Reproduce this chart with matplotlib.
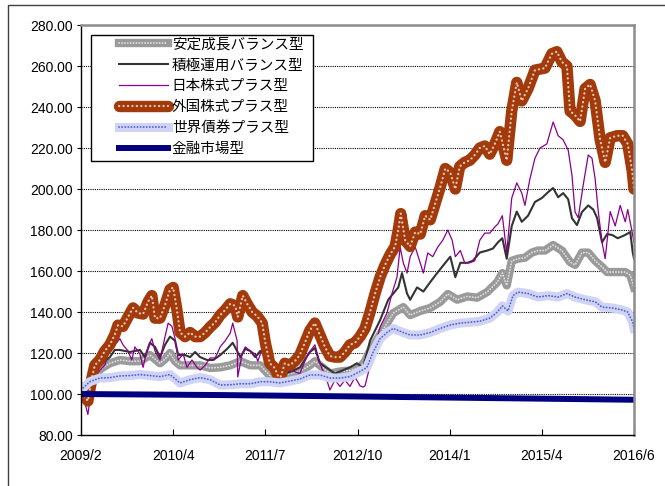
import numpy as np
import matplotlib.pyplot as plt
from matplotlib.patches import Rectangle

plt.rcParams['font.family'] = ['Liberation Sans', 'Noto Sans CJK JP']

# x = months elapsed since 2009/2
tick_labels = ['2009/2', '2010/4', '2011/7', '2012/10', '2014/1', '2015/4', '2016/6']
x_end = 88.2

names = ['安定成長バランス型', '積極運用バランス型', '日本株式プラス型',
         '外国株式プラス型', '世界債券プラス型', '金融市場型']

# 安定成長バランス型
t_stable = [0, 1.4, 3.0, 4.6, 6.2, 7.8, 9.4, 11.0, 12.6, 13.4, 14.2, 15.0, 15.8, 17.4, 19.0,
            20.6, 22.2, 23.8, 25.4, 27.0, 28.6, 30.1, 31.7, 33.3, 34.9, 36.5, 37.3, 38.1, 39.7,
            41.3, 42.9, 44.5, 45.3, 46.1, 46.9, 47.7, 49.8, 51.4, 52.5, 54.1, 55.7, 57.3, 58.5,
            60.0, 61.6, 63.2, 64.8, 66.4, 67.2, 67.9, 68.7, 69.7, 70.8, 71.9, 72.9, 74.0, 75.3,
            76.7, 78.0, 78.8, 79.9, 80.9, 82.0, 83.1, 83.9, 85.2, 86.8, 87.6, 88.0, 88.2]
v_stable = [100, 103, 112, 115, 116.6, 116, 116, 119, 115, 117, 120, 116, 114, 114, 114,
            112.7, 113, 114, 116, 114, 114, 109, 108, 110, 111, 114, 116, 114, 110,
            111, 111.5, 113, 116, 121, 125, 129, 139.5, 142.4, 138.5, 140.5, 142, 145, 148.8,
            146, 147.6, 147, 149.8, 154.6, 159, 153, 165, 166, 166.5, 169, 170, 170, 172.7,
            170, 164.4, 163, 169, 169, 165, 162, 159.5, 159.5, 159.5, 158, 154, 152]

# 積極運用バランス型
t_active = [0, 1.4, 2.6, 4.6, 5.4, 6.2, 7.8, 9.4, 10.2, 11.0, 11.8, 12.6, 13.4, 14.2, 15.0,
            15.5, 16.6, 17.4, 18.2, 19.0, 20.1, 21.1, 22.2, 23.3, 24.2, 24.9, 25.4, 26.2, 27.0,
            27.8, 28.6, 29.4, 30.1, 31.7, 33.3, 34.9, 36.5, 37.3, 38.1, 39.7, 40.5, 41.3, 42.9,
            44.0, 45.0, 46.1, 47.7, 49.0, 49.8, 50.6, 51.2, 52.0, 52.5, 53.6, 54.6, 55.7, 56.8,
            58.1, 58.9, 59.7, 60.5, 61.6, 62.5, 63.6, 64.8, 65.7, 66.5, 67.2, 67.9, 68.7, 69.5,
            70.3, 71.3, 72.4, 73.5, 74.5, 75.3, 76.1, 76.9, 77.7, 78.3, 79.1, 79.9, 80.9, 81.7,
            82.3, 83.1, 83.9, 84.7, 85.6, 86.8, 87.6, 88.0, 88.2]
v_active = [100, 104, 113, 118, 121.5, 121.5, 120.5, 121.5, 118, 125, 123, 118, 124, 128, 126,
            119, 119, 118, 120.5, 118, 116.6, 116.6, 119, 122, 125, 121, 118, 122, 121,
            118, 121, 119.5, 115, 109, 110.7, 113, 120.5, 122.4, 115, 111.7, 110, 111, 113,
            115, 113, 126, 136, 146, 149, 152, 159, 149, 146, 152, 150, 154.6, 159,
            164, 167, 157, 164, 164, 165, 169, 170, 171, 174, 176, 166, 182, 189,
            184, 187, 193.7, 195.6, 198.5, 200.5, 196, 198, 195, 185.8, 182.4, 188.8, 192, 190,
            186, 174, 178, 177.6, 176, 177.6, 179, 169, 166]

# 日本株式プラス型
t_japan = [0, 0.6, 1.1, 1.4, 1.75, 3.0, 3.8, 4.6, 5.7, 6.2, 6.7, 7.5, 8.1, 8.6, 9.4, 9.9,
           10.5, 11.0, 11.3, 11.8, 12.6, 13.4, 13.9, 14.5, 15.0, 15.5, 16.3, 16.9, 17.7, 18.5,
           19.0, 19.8, 20.6, 21.4, 22.2, 23.0, 23.8, 24.2, 24.9, 25.0, 25.7, 26.2, 27.0, 27.8,
           28.2, 29.0, 30.1, 31.7, 33.3, 34.9, 36.2, 37.3, 38.1, 39.2, 39.7, 40.5, 41.3, 42.1,
           42.9, 43.7, 44.5, 45.0, 45.3, 46.6, 47.7, 48.8, 49.6, 50.4, 50.9, 51.4, 52.0, 52.5,
           53.3, 54.1, 54.6, 55.3, 56.1, 56.9, 57.7, 58.5, 59.2, 59.7, 60.5, 61.2, 62.0, 62.8,
           63.6, 64.4, 65.2, 66.0, 66.5, 67.2, 67.9, 68.7, 69.5, 70.3, 70.8, 71.6, 72.4, 73.2,
           74.3, 75.3, 76.1, 76.9, 77.7, 78.3, 78.8, 79.3, 80.1, 80.9, 81.5, 82.0, 82.5, 83.1,
           83.6, 84.4, 85.2, 86.0, 86.8, 87.2, 87.9, 88.2]
v_japan = [100, 96, 90, 97, 105, 111.7, 114, 123, 125, 127, 124, 121, 116.6, 123, 119.5, 113,
           121, 125, 127, 121, 116.6, 128, 134.6, 133, 127, 116.6, 119.5, 113, 116.6, 113,
           111.7, 114, 117.6, 117.6, 123, 126, 129.7, 134.6, 126, 108.3, 119.5, 123, 121, 119.5,
           116, 123, 113, 106.8, 111.7, 110, 119.5, 124, 115, 106.8, 102, 106.8, 103.7, 106.8,
           103.7, 108.3, 104, 103.4, 104, 120, 132.7, 139.5, 149, 157, 171.7, 164, 159, 167,
           171.7, 164, 159, 168.8, 167, 171.7, 175, 180, 175, 167, 170, 164, 164, 165,
           175, 178.5, 178.5, 181.5, 183, 187, 169, 195.6, 203, 198, 192, 205, 215, 220,
           222, 232.7, 226, 224, 219, 206.8, 188.8, 186, 202, 216.6, 215, 205, 189, 174,
           166, 189, 182, 192, 184, 190, 179, 174]

# 外国株式プラス型
t_foreign = [0, 0.6, 1.1, 1.75, 2.2, 3.0, 3.8, 4.6, 5.4, 5.9, 6.7, 7.5, 8.3, 9.1, 9.9, 10.7,
             11.3, 11.8, 12.6, 13.4, 14.2, 14.7, 15.3, 15.8, 16.6, 17.4, 18.2, 19.0, 19.8, 20.6,
             21.4, 22.2, 23.0, 23.8, 24.6, 25.0, 25.8, 26.5, 27.3, 28.1, 28.9, 29.4, 30.1, 30.9,
             31.7, 32.5, 33.3, 34.1, 34.9, 35.7, 36.5, 37.3, 38.1, 38.9, 39.7, 40.5, 41.3, 42.1,
             42.9, 43.7, 44.5, 45.3, 46.1, 46.9, 47.7, 48.5, 49.3, 50.1, 50.6, 51.0, 51.7, 52.5,
             53.3, 54.1, 54.9, 55.7, 56.5, 57.3, 58.1, 58.9, 59.7, 60.4, 61.2, 62.0, 62.8, 63.6,
             64.4, 65.2, 66.0, 66.8, 67.9, 68.7, 69.5, 70.3, 71.3, 72.4, 74.0, 75.1, 75.9, 76.7,
             77.5, 78.0, 78.8, 79.6, 80.4, 81.2, 82.0, 82.8, 83.6, 84.4, 85.5, 86.4, 87.2, 87.9,
             88.2]
v_foreign = [103, 98.5, 96.6, 108, 114, 116.6, 121, 124, 129, 133.6, 133, 137.6, 142, 139.5, 139, 145,
             148, 137, 137, 143.4, 151, 152, 141, 130, 128, 130, 128, 128, 130, 132.7,
             135, 138.5, 141, 144, 143, 137.6, 148, 144, 140, 138, 134.6, 125, 115, 112.7,
             106.8, 115, 114, 116, 119, 125, 131, 134.6, 128.8, 123, 118.5, 118, 118, 120.5,
             124, 125, 128, 132, 140, 149, 157, 163, 168, 172, 180, 188, 175, 172,
             179, 178, 187, 185, 193, 201, 210, 208, 200, 211, 213, 214, 216.6, 220,
             221, 217, 222, 228, 214, 238, 252, 243, 249, 258, 259, 266, 267, 262,
             260, 238, 236, 233, 249, 251, 243, 224, 213, 225, 226, 226, 222, 209,
             200]

# 世界債券プラス型
t_bond = [0, 1.4, 3.0, 4.6, 6.2, 7.8, 9.4, 11.0, 12.6, 14.2, 15.8, 17.4, 19.0, 20.6, 22.2,
          23.8, 25.4, 27.0, 28.6, 30.1, 31.7, 33.3, 34.9, 36.5, 38.1, 39.7, 41.3, 42.9, 44.5,
          45.6, 46.6, 47.7, 48.8, 49.8, 51.4, 52.5, 54.1, 55.7, 57.3, 58.9, 60.5, 62.0, 63.6,
          65.2, 66.4, 67.2, 68.1, 68.9, 69.7, 71.3, 72.9, 74.5, 76.1, 77.5, 78.8, 80.4, 82.0,
          83.1, 84.7, 86.3, 87.2, 88.0, 88.2]
v_bond = [102, 106, 107.8, 108, 108.8, 109, 109.5, 109, 108.5, 109.5, 105.4, 107, 108, 107, 104.4,
          104.5, 105, 105, 106, 106, 105.4, 106.3, 107.3, 109.3, 109.3, 107.8, 107.8, 108.5, 111,
          113, 120.5, 127, 130, 132, 130, 128.8, 128.8, 130, 132, 133.7, 134.6, 135, 135.5,
          137, 140, 143, 140.5, 148, 149.7, 149, 147.3, 148, 147.3, 149, 147.3, 146, 145,
          142.4, 142, 141, 140, 135, 132]

# 金融市場型
t_money = [0, 22, 44, 66, 88.2]
v_money = [100.0, 99.5, 98.8, 98.0, 97.2]

fig = plt.figure(figsize=(6.65, 4.86), dpi=100)
ax = fig.add_axes([0.1218, 0.1049, 0.8316, 0.8436])

h_stable = (ax.plot(t_stable, v_stable, color='#9a9a9a', lw=6, solid_joinstyle='round')[0],
            ax.plot(t_stable, v_stable, color='#e0e0e0', lw=1.3, ls=(0, (0.1, 1.5)),
                    dash_capstyle='round')[0])
h_active = ax.plot(t_active, v_active, color='#333333', lw=1.5)[0]
h_japan = ax.plot(t_japan, v_japan, color='#8b008b', lw=0.9)[0]
h_foreign = (ax.plot(t_foreign, v_foreign, color='#a33a0b', lw=8.2, solid_joinstyle='round',
                     solid_capstyle='round')[0],
             ax.plot(t_foreign, v_foreign, color='#ecc8b4', lw=1.6, ls=(0, (0.1, 1.9)),
                     dash_capstyle='round')[0])
h_bond = (ax.plot(t_bond, v_bond, color='#cfd3f6', lw=6.5, solid_joinstyle='round')[0],
          ax.plot(t_bond, v_bond, color='#5060d0', lw=1.3, ls=(0, (0.1, 1.6)),
                  dash_capstyle='round')[0])
h_money = ax.plot(t_money, v_money, color='#000080', lw=4.3)[0]

ax.set_xlim(0, x_end)
ax.set_ylim(80, 280)
ax.set_yticks(np.arange(80, 281, 20))
ax.yaxis.set_major_formatter(plt.FormatStrFormatter('%.2f'))
ax.set_xticks(np.linspace(0, x_end, len(tick_labels)))
ax.set_xticklabels(tick_labels)
ax.tick_params(axis='x', direction='in', length=4, labelsize=10, pad=10)
ax.tick_params(axis='y', direction='out', length=3, labelsize=10, pad=3)
for v in range(100, 280, 20):
    ax.axhline(v, color='black', lw=0.8, ls=(0, (1, 1)), zorder=0.5)

for s in ['left', 'bottom']:
    ax.spines[s].set_color('black')
    ax.spines[s].set_linewidth(1.0)
for s in ['top', 'right']:
    ax.spines[s].set_color('#8c8c8c')
    ax.spines[s].set_linewidth(1.8)

# legend frame
ax.add_patch(Rectangle((0.018, 0.668), 0.402, 0.308, transform=ax.transAxes,
                       facecolor='white', edgecolor='black', lw=1.0, zorder=5))
leg = ax.legend([h_stable, h_active, h_japan, h_foreign, h_bond, h_money], names,
                loc='upper left', bbox_to_anchor=(0.068, 0.970), frameon=False,
                fontsize=10.5, handlelength=3.4, handletextpad=0.25, labelspacing=0.48,
                borderaxespad=0, borderpad=0)
leg.set_zorder(6)

# outer chart border
fig.add_artist(Rectangle((8 / 665, -1), 2, 1 + (1 - 5 / 486), transform=fig.transFigure,
                         facecolor='none', edgecolor='#404040', lw=1.0))

fig.savefig('out.png', dpi=100)
